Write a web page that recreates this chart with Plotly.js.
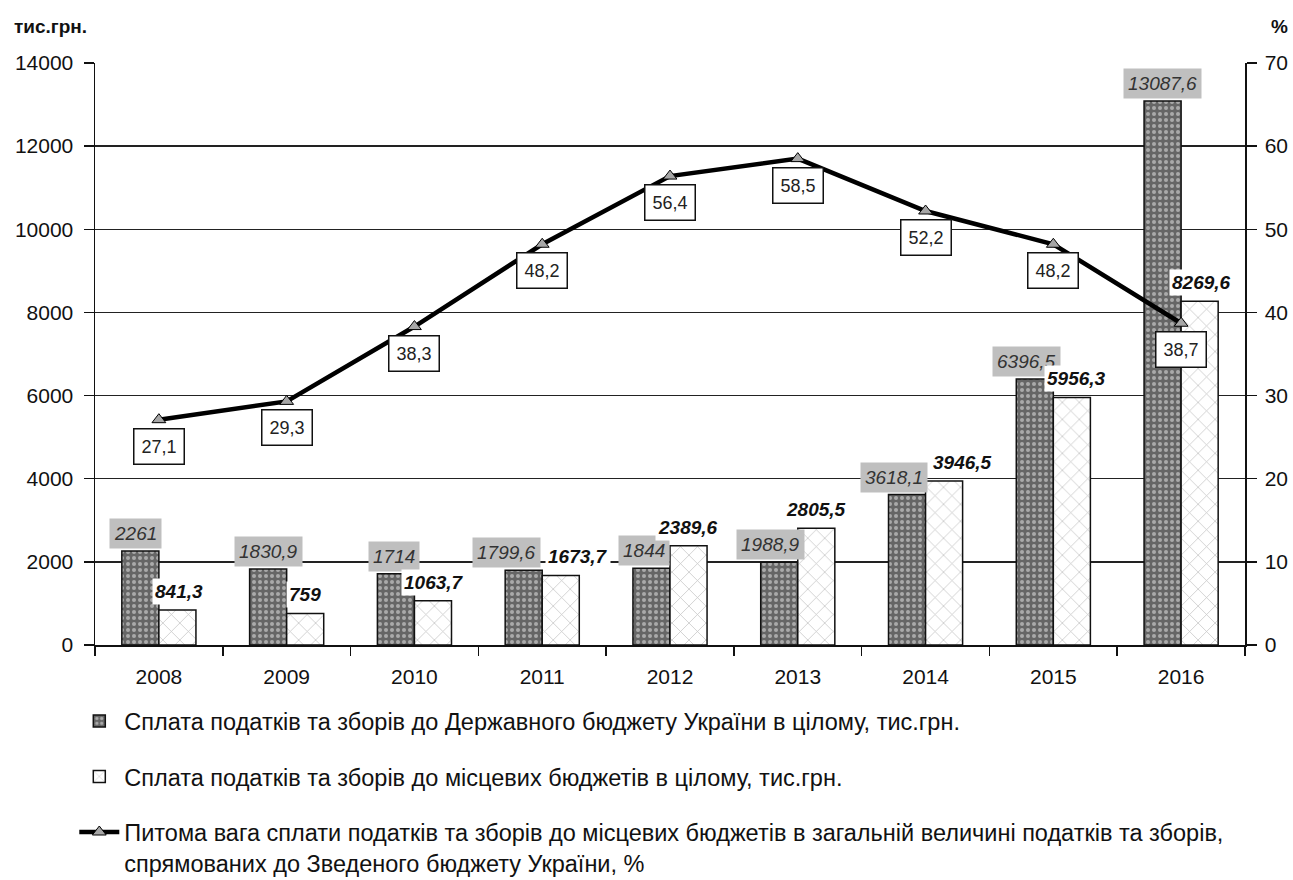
<!DOCTYPE html>
<html>
<head>
<meta charset="utf-8">
<script src="https://cdn.plot.ly/plotly-3.0.1.min.js"></script>
<style>html,body{margin:0;padding:0;background:#fff;}#chart{width:1293px;height:880px;}</style>
</head>
<body>
<div id="chart"></div>
<script>
const years = ['2008','2009','2010','2011','2012','2013','2014','2015','2016'];
const stateBudget = [2261, 1830.9, 1714, 1799.6, 1844, 1988.9, 3618.1, 6396.5, 13087.6];
const localBudget = [841.3, 759, 1063.7, 1673.7, 2389.6, 2805.5, 3946.5, 5956.3, 8269.6];
const localShare = [27.1, 29.3, 38.3, 48.2, 56.4, 58.5, 52.2, 48.2, 38.7];

const nameState = 'Сплата податків та зборів до Державного бюджету України в цілому, тис.грн.';
const nameLocal = 'Сплата податків та зборів до місцевих бюджетів в цілому, тис.грн.';
const nameShare = 'Питома вага сплати податків та зборів до місцевих бюджетів в загальній величині податків та зборів,<br>спрямованих до Зведеного бюджету України, %';

// label nudges (pixels), as placed in the original
const darkShift = [-5, 0, -2, -17, -8, -9, -13, -8, 0];
const lightShift = [2, 0, 1, 17, -1, 0, 18, 5, 2];

const fmt = v => String(v).replace('.', ',');
const FONT = 'Liberation Sans, Arial, sans-serif';
const HALF = 18.5;

const traces = [
  {
    type: 'bar', x: years, y: stateBudget, name: nameState, legendgroup: 'a',
    marker: {color: '#6e6e6e', line: {color: '#111', width: 1.5},
      pattern: {shape: '.', fgcolor: '#eeeeee', bgcolor: '#666666', size: 6, solidity: 0.35, fillmode: 'overlay'}},
    hoverinfo: 'skip'
  },
  {
    type: 'bar', x: years, y: localBudget, name: nameLocal, legendgroup: 'b',
    marker: {color: '#ffffff', line: {color: '#111', width: 1.5},
      pattern: {shape: 'x', fgcolor: '#8a8a8a', bgcolor: '#ffffff', size: 12, solidity: 0.12, fillmode: 'overlay'}},
    hoverinfo: 'skip'
  },
  {
    type: 'scatter', mode: 'lines+markers', x: years, y: localShare, yaxis: 'y2', name: nameShare, legendgroup: 'c',
    line: {color: '#000', width: 4.5},
    marker: {symbol: 'triangle-up', size: 12, color: '#a6a6a6', line: {color: '#000', width: 1}},
    hoverinfo: 'skip'
  }
];

const annotations = [];
years.forEach((yr, i) => {
  annotations.push({
    x: i, y: stateBudget[i], xref: 'x', yref: 'y', text: fmt(stateBudget[i]), showarrow: false,
    xanchor: 'center', yanchor: 'bottom', xshift: -HALF + darkShift[i], yshift: 2,
    bgcolor: '#bfbfbf', borderpad: 4,
    font: {family: FONT, size: 19, color: '#333', style: 'italic'}
  });
  annotations.push({
    x: i, y: localBudget[i], xref: 'x', yref: 'y', text: fmt(localBudget[i]), showarrow: false,
    xanchor: 'center', yanchor: 'bottom', xshift: HALF + lightShift[i], yshift: 5,
    bgcolor: '#ffffff', borderpad: 2,
    font: {family: FONT, size: 19, color: '#111', style: 'italic', weight: 'bold'}
  });
  annotations.push({
    x: i, y: localShare[i], xref: 'x', yref: 'y2', text: fmt(localShare[i]), showarrow: false,
    xanchor: 'center', yanchor: 'top', yshift: -8,
    bgcolor: '#ffffff', bordercolor: '#111', borderwidth: 1.5, borderpad: 7,
    font: {family: FONT, size: 18, color: '#222'}
  });
});
annotations.push({
  text: '<b>тис.грн.</b>', xref: 'paper', yref: 'paper', x: -0.072, y: 1.085, xanchor: 'left', yanchor: 'top',
  showarrow: false, font: {family: FONT, size: 19, color: '#111'}
});
annotations.push({
  text: '<b>%</b>', xref: 'paper', yref: 'paper', x: 1.039, y: 1.085, xanchor: 'right', yanchor: 'top',
  showarrow: false, font: {family: FONT, size: 19, color: '#111'}
});

const layout = {
  width: 1293, height: 880,
  margin: {l: 95, r: 48, t: 63, b: 235, autoexpand: false},
  paper_bgcolor: '#fff', plot_bgcolor: '#fff',
  font: {family: FONT, size: 20, color: '#111'},
  barmode: 'group', bargap: 0.42, bargroupgap: 0,
  showlegend: true,
  legend: {
    x: -0.018, y: -0.093, xanchor: 'left', yanchor: 'top', orientation: 'v',
    traceorder: 'grouped', tracegroupgap: 22, valign: 'top',
    font: {family: FONT, size: 23.5, color: '#111'}, itemwidth: 40, bgcolor: 'rgba(0,0,0,0)'
  },
  xaxis: {
    type: 'category', range: [-0.5, 8.5], showline: true, linecolor: '#111', linewidth: 1.5,
    ticks: 'outside', tickson: 'boundaries', ticklen: 9, tickcolor: '#111', tickwidth: 1.5, tickangle: 0,
    ticklabelstandoff: 12,
    showgrid: false, tickfont: {family: FONT, size: 21, color: '#111'}, fixedrange: true
  },
  yaxis: {
    range: [0, 14000], dtick: 2000, tickformat: 'd', showline: true, linecolor: '#111', linewidth: 1.5,
    ticks: 'outside', ticklen: 10, tickcolor: '#111', tickwidth: 1.5, ticklabelstandoff: 6,
    showgrid: true, gridcolor: '#222', gridwidth: 1.5, zeroline: false,
    tickfont: {family: FONT, size: 21, color: '#111'}, fixedrange: true
  },
  yaxis2: {
    range: [0, 70], dtick: 10, overlaying: 'y', side: 'right', showline: true, linecolor: '#111', linewidth: 1.5,
    ticks: 'outside', ticklen: 10, tickcolor: '#111', tickwidth: 1.5, ticklabelstandoff: 4, showgrid: false, zeroline: false,
    tickfont: {family: FONT, size: 21, color: '#111'}, fixedrange: true
  },
  annotations: annotations
};

Plotly.newPlot('chart', traces, layout, {staticPlot: true, displayModeBar: false});
</script>
</body>
</html>
